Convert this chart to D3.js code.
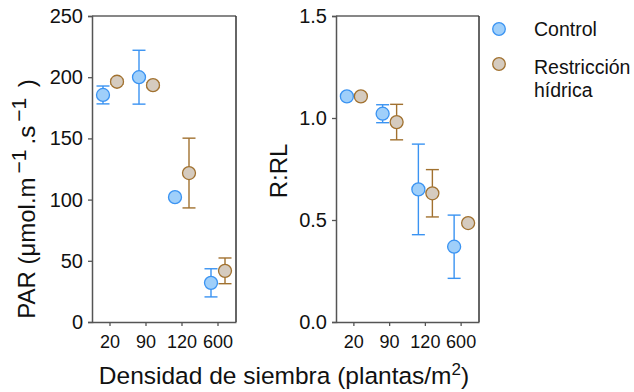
<!DOCTYPE html>
<html><head><meta charset="utf-8">
<script src="https://cdn.jsdelivr.net/npm/d3@7"></script>
<style>
html,body{margin:0;padding:0;background:#fff;}
svg{display:block;font-family:"Liberation Sans",Arial,Helvetica,sans-serif;}
</style></head>
<body>
<svg id="chart" width="634" height="392"></svg>
<script>
const categories = ["20", "90", "120", "600"];
const seriesNames = ["Control", "Restricción hídrica"];

const parControl = [185.5, 200, 102, 32];
const parControlErr = [7.3, 22, 0, 11.5];
const parRestr = [196.3, 193.5, 121.7, 41.8];
const parRestrErr = [2, 2, 28.5, 10.5];

const rrlControl = [1.106, 1.021, 0.65, 0.369];
const rrlControlErr = [0, 0.044, 0.222, 0.155];
const rrlRestr = [1.106, 0.98, 0.631, 0.485];
const rrlRestrErr = [0, 0.087, 0.116, 0];

const parTicks = [0, 50, 100, 150, 200, 250];
const rrlTicks = [0, 0.5, 1.0, 1.5];

const colors = {
  "Control": {fill: "#9fcffa", stroke: "#3a93f2"},
  "Restricción hídrica": {fill: "#d5cbbf", stroke: "#a1712f"}
};

const svg = d3.select("#chart");
const plotTop = 16, plotBottom = 322;

function panel(x0, x1, yMax, ticks, fmt, ctrl, ctrlErr, restr, restrErr) {
  const x = d3.scaleBand().domain(categories).range([x0, x1]).paddingInner(0).paddingOuter(0);
  const off = d3.scalePoint().domain(seriesNames).range([-7, 7]);
  const y = d3.scaleLinear().domain([0, yMax]).range([plotBottom, plotTop]);
  const g = svg.append("g");

  g.append("line").attr("x1", x0).attr("x2", x1).attr("y1", plotTop).attr("y2", plotTop)
    .attr("stroke", "#111").attr("stroke-width", 1.2);
  g.append("line").attr("x1", x1).attr("x2", x1).attr("y1", plotTop).attr("y2", plotBottom)
    .attr("stroke", "#333").attr("stroke-width", 1.5);

  const ya = g.append("g").attr("transform", `translate(${x0},0)`)
    .call(d3.axisLeft(y).tickValues(ticks).tickFormat(fmt).tickSize(4).tickPadding(5));
  ya.select(".domain").attr("stroke", "#555").attr("stroke-width", 1.5);
  ya.selectAll(".tick line").attr("stroke", "#555").attr("stroke-width", 1.3);
  ya.selectAll("text").attr("font-size", 20).attr("fill", "#111")
    .attr("font-family", "Liberation Sans, Arial, sans-serif");

  const xa = g.append("g").attr("transform", `translate(0,${plotBottom})`)
    .call(d3.axisBottom(x).tickSize(4).tickPadding(9).tickSizeOuter(0));
  xa.select(".domain").attr("stroke", "#555").attr("stroke-width", 1.5);
  xa.selectAll(".tick line").attr("stroke", "#555").attr("stroke-width", 1.3);
  xa.selectAll("text").attr("font-size", 18).attr("fill", "#111")
    .attr("font-family", "Liberation Sans, Arial, sans-serif");

  const data = [];
  categories.forEach((c, i) => {
    data.push({cat: c, s: "Control", v: ctrl[i], e: ctrlErr[i]});
    data.push({cat: c, s: "Restricción hídrica", v: restr[i], e: restrErr[i]});
  });
  const cx = d => x(d.cat) + x.bandwidth() / 2 + off(d.s);

  const eg = g.append("g");
  data.filter(d => d.e > 0).forEach(d => {
    const col = colors[d.s].stroke;
    const xx = cx(d);
    eg.append("line").attr("x1", xx).attr("x2", xx).attr("y1", y(d.v + d.e)).attr("y2", y(d.v - d.e))
      .attr("stroke", col).attr("stroke-width", 1.4);
    [d.v + d.e, d.v - d.e].forEach(v => {
      eg.append("line").attr("x1", xx - 6.5).attr("x2", xx + 6.5).attr("y1", y(v)).attr("y2", y(v))
        .attr("stroke", col).attr("stroke-width", 1.4);
    });
  });

  g.append("g").selectAll("circle").data(data).join("circle")
    .attr("cx", cx).attr("cy", d => y(d.v)).attr("r", 6.5)
    .attr("fill", d => colors[d.s].fill)
    .attr("stroke", d => colors[d.s].stroke).attr("stroke-width", 1.3);
}

panel(92, 236, 250, parTicks, d3.format("d"), parControl, parControlErr, parRestr, parRestrErr);
panel(336, 479, 1.5, rrlTicks, d3.format(".1f"), rrlControl, rrlControlErr, rrlRestr, rrlRestrErr);

const t1 = svg.append("text").attr("transform", "translate(35,199) rotate(-90)")
  .attr("text-anchor", "middle").attr("font-size", 24).attr("fill", "#111");
t1.append("tspan").text("PAR (μmol.m");
t1.append("tspan").attr("dx", 4).attr("dy", -9).attr("font-size", 21).text("−1");
t1.append("tspan").attr("dx", 5).attr("dy", 9).text(".s");
t1.append("tspan").attr("dx", 4).attr("dy", -9).attr("font-size", 21).text("−1");
t1.append("tspan").attr("dx", 4).attr("dy", 9).text(" )");

svg.append("text").attr("transform", "translate(287,171) rotate(-90)")
  .attr("text-anchor", "middle").attr("font-size", 24).attr("fill", "#111").text("R:RL");

const xt = svg.append("text").attr("x", 284).attr("y", 384)
  .attr("text-anchor", "middle").attr("font-size", 24.5).attr("fill", "#111");
xt.append("tspan").text("Densidad de siembra (plantas/m");
xt.append("tspan").attr("dy", -9).attr("font-size", 17).text("2");
xt.append("tspan").attr("dy", 9).text(")");

const lg = svg.append("g");
const legendRows = [
  {s: "Control", cy: 29, lines: ["Control"], y0: 36},
  {s: "Restricción hídrica", cy: 64, lines: ["Restricción", "hídrica"], y0: 74}
];
legendRows.forEach(r => {
  lg.append("circle").attr("cx", 499).attr("cy", r.cy).attr("r", 6.3)
    .attr("fill", colors[r.s].fill).attr("stroke", colors[r.s].stroke).attr("stroke-width", 1.3);
  const t = lg.append("text").attr("x", 534).attr("y", r.y0).attr("font-size", 19.5).attr("fill", "#111");
  r.lines.forEach((l, i) => t.append("tspan").attr("x", 534).attr("dy", i === 0 ? 0 : 23).text(l));
});
</script>
</body></html>
